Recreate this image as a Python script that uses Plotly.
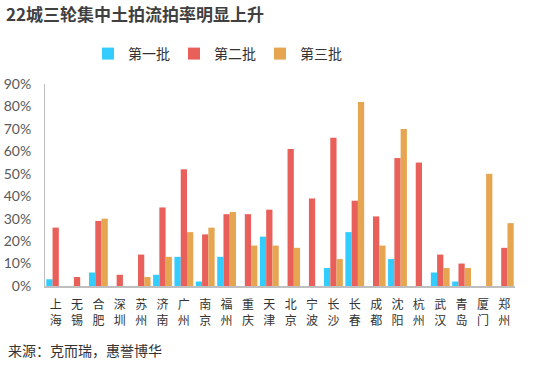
import plotly.graph_objects as go

cities = ["上海", "无锡", "合肥", "深圳", "苏州", "济南", "广州", "南京", "福州", "重庆", "天津",
          "北京", "宁波", "长沙", "长春", "成都", "沈阳", "杭州", "武汉", "青岛", "厦门", "郑州"]
batch1 = [0.03, 0, 0.06, 0, 0, 0.05, 0.13, 0.02, 0.13, 0, 0.22,
          0, 0, 0.08, 0.24, 0, 0.12, 0, 0.06, 0.02, 0, 0]
batch2 = [0.26, 0.04, 0.29, 0.05, 0.14, 0.35, 0.52, 0.23, 0.32, 0.32, 0.34,
          0.61, 0.39, 0.66, 0.38, 0.31, 0.57, 0.55, 0.14, 0.10, 0, 0.17]
batch3 = [0, 0, 0.30, 0, 0.04, 0.13, 0.24, 0.26, 0.33, 0.18, 0.18,
          0.17, 0, 0.12, 0.82, 0.18, 0.70, 0, 0.08, 0.08, 0.50, 0.28]
series_names = ["第一批", "第二批", "第三批"]
colors = ["#33CCFF", "#E9605B", "#E6A550"]
tick_vals = [0, 0.1, 0.2, 0.3, 0.4, 0.5, 0.6, 0.7, 0.8, 0.9]
tick_text = ["0%", "10%", "20%", "30%", "40%", "50%", "60%", "70%", "80%", "90%"]

first_chars = [c[0] for c in cities]
second_chars = [c[1] for c in cities]

fig = go.Figure()
for name, vals, col in zip(series_names, [batch1, batch2, batch3], colors):
    fig.add_trace(go.Bar(x=cities, y=vals, name=name, marker_color=col, marker_line_width=0))
# carrier trace so the second-line label axis is drawn (no visible marks)
fig.add_trace(go.Scatter(x=list(range(len(cities))), y=[None] * len(cities), xaxis="x2",
                         showlegend=False, hoverinfo="skip", mode="markers"))

fig.update_layout(
    width=543, height=368,
    margin=dict(l=45, r=28, t=84, b=82, autoexpand=False),
    paper_bgcolor="white", plot_bgcolor="white",
    barmode="group", bargap=0.12, bargroupgap=0,
    font=dict(family="Noto Sans CJK SC", color="#333333"),
    title=dict(text="<b>22城三轮集中土拍流拍率明显上升</b>", xref="container", yref="container",
               x=6/543, y=1-15/368, xanchor="left", yanchor="middle",
               font=dict(size=17, color="#404040", family="Noto Sans CJK SC")),
    legend=dict(orientation="h", x=(88-45)/470, y=(286-54)/202, xanchor="left", yanchor="middle",
                font=dict(size=14, color="#333333"), itemwidth=30,
                entrywidth=41, entrywidthmode="pixels", traceorder="normal"),
    showlegend=True,
    annotations=[dict(text="来源：克而瑞，惠誉博华", xref="paper", yref="paper",
                      x=(6-45)/470, y=(286-350)/202, xanchor="left", yanchor="middle",
                      showarrow=False, font=dict(size=14, color="#333333"))],
    xaxis2=dict(overlaying="x", side="bottom", type="linear", range=[-0.5, len(cities) - 0.5],
                tickvals=list(range(len(cities))), ticktext=second_chars, showgrid=False,
                showline=False, zeroline=False, ticks="", ticklabelstandoff=26,
                tickfont=dict(size=12, color="#333333"), tickangle=0, fixedrange=True),
)
fig.update_yaxes(range=[0, 0.9], tickvals=tick_vals, ticktext=tick_text, showgrid=False,
                 showline=True, linecolor="#BFBFBF", linewidth=1, zeroline=False,
                 ticks="", ticklabelstandoff=10,
                 tickfont=dict(family="Lato", size=14, color="#595959"))
fig.layout.xaxis.update(showline=True, linecolor="#BFBFBF", linewidth=2, ticks="",
                        tickvals=cities, ticktext=first_chars, ticklabelstandoff=7,
                        tickfont=dict(size=12, color="#333333"), tickangle=0)

fig.write_html("out.html", config={"displayModeBar": False},
               post_script="document.body.style.margin='0';")
